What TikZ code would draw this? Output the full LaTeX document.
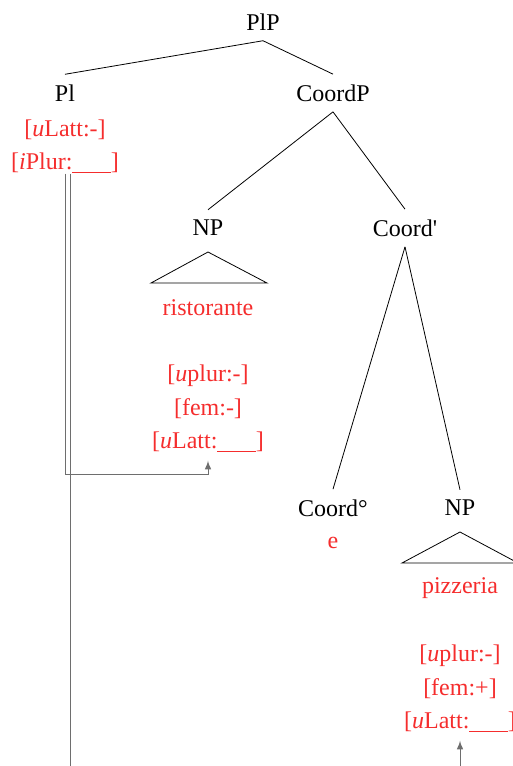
\documentclass[tikz,border=0pt]{standalone}
\usepackage{fontspec}
\setmainfont{Liberation Serif}
\usepackage{tikz}
\usetikzlibrary{arrows}
\definecolor{featred}{RGB}{245,45,45}
\definecolor{linkgray}{RGB}{110,110,110}
\newcommand{\blank}{\underline{\hspace{1.6em}}}

\begin{document}
\begin{tikzpicture}[>=latex, x=0.5pt, y=-0.5pt,
  every node/.style={inner sep=0pt, font=\fontsize{12}{14}\selectfont},
  cat/.style={inner ysep=5pt},
  feat/.style={text=featred},
  link/.style={draw=linkgray, line width=0.5pt}]
		\useasboundingbox (0,0) rectangle (513,766);
		%Root
		\node [cat] (plp) at (263,22) {PlP};
		%Pl head
		\node [cat] (pl) at (65,93) {Pl};
		\node [feat] (pl-latt) at (65,130) {[\textit{u}Latt:-]};
		\node [feat] (pl-plur) at (65,163) {[\textit{i}Plur:\blank]};
		%Coordination
		\node [cat] (coordp) at (333,93) {CoordP};
		\node [cat] (coordbar) at (405,228) {Coord\textquotesingle};
		\node [cat] (coordhead) at (333,508) {Coord°};
		\node [feat] (conj) at (333,543) {e};
		\draw (plp.south) -- (pl.north);
		\draw (plp.south) -- (coordp.north);
		%First conjunct
		\node [cat] (np1) at (208,228) {NP};
		\draw (208,252) -- (151,283) -- (267,283) -- cycle;
		\node [feat] (np1-word) at (208,308) {ristorante};
		\node [feat] (np1-plur) at (208,376) {[\textit{u}plur:-]};
		\node [feat] (np1-fem) at (208,409) {[fem:-]};
		\node [feat] (np1-latt) at (208,442) {[\textit{u}Latt:\blank]};
		\draw (coordp.south) -- (np1.north);
		\draw (coordp.south) -- (coordbar.north);
		%Second conjunct
		\node [cat] (np2) at (460,508) {NP};
		\draw (460,532) -- (402,563) -- (518,563) -- cycle;
		\node [feat] (np2-word) at (460,588) {pizzeria};
		\node [feat] (np2-plur) at (460,656) {[\textit{u}plur:-]};
		\node [feat] (np2-fem) at (460,689) {[fem:+]};
		\node [feat] (np2-latt) at (460,722) {[\textit{u}Latt:\blank]};
		\draw (coordbar.south) -- (coordhead.north);
		\draw (coordbar.south) -- (np2.north);
		%Agreement links
		\coordinate (turn) at (65,474);
		\coordinate (offL) at (70,780);
		\coordinate (offR) at (460,780);
		\draw [link, ->, shorten >=4pt] (pl-plur.south) -- (turn) -| (np1-latt.south);
		\draw [link] ([xshift=2.5pt]pl-plur.south) -- (offL);
		\draw [link, ->, shorten >=4pt] (offR) -- (np2-latt.south);
\end{tikzpicture}
\end{document}
